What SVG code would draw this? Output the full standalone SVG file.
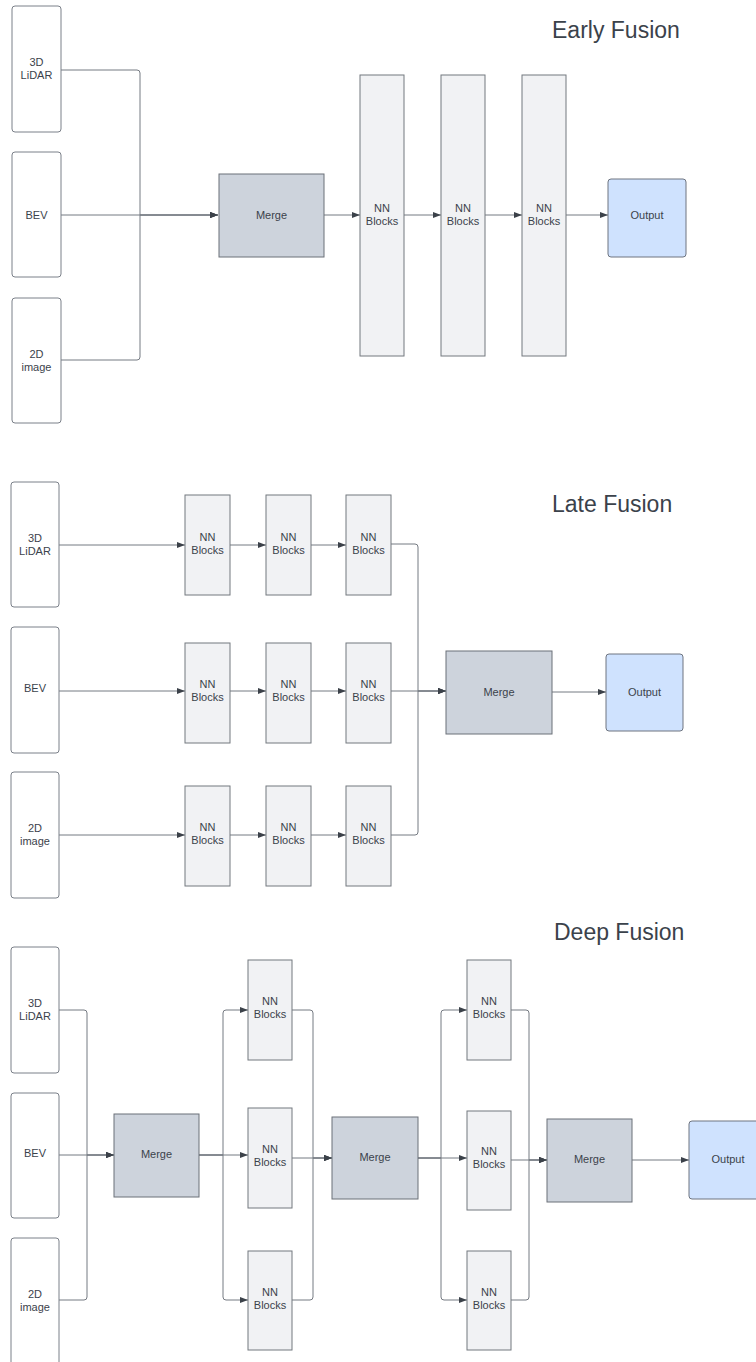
<svg xmlns="http://www.w3.org/2000/svg" width="756" height="1362" viewBox="0 0 756 1362">
<defs>
<style>
.in{fill:#ffffff;stroke:#7b8089;stroke-width:1}
.nn{fill:#f1f2f4;stroke:#73787f;stroke-width:1}
.mg{fill:#cdd3dc;stroke:#6b7078;stroke-width:1}
.out{fill:#cfe2fe;stroke:#6e7480;stroke-width:1}
.t{font-family:"Liberation Sans",Arial,sans-serif;font-size:11px;fill:#3b424b;text-anchor:middle}
.title{font-family:"Liberation Sans",Arial,sans-serif;font-size:23px;fill:#3b424b}
.c path{fill:none;stroke:#757a82;stroke-width:1}
.c path.a{marker-end:url(#arr)}
</style>
<marker id="arr" markerUnits="userSpaceOnUse" markerWidth="9" markerHeight="7" refX="8" refY="3" orient="auto">
<path d="M0,0 L8,3 L0,6 z" fill="#3b4149"/>
</marker>
</defs>
<rect width="756" height="1362" fill="#ffffff"/>

<!-- Titles -->
<text class="title" x="552" y="38">Early Fusion</text>
<text class="title" x="552" y="512">Late Fusion</text>
<text class="title" x="554" y="940">Deep Fusion</text>

<!-- Connectors -->
<g id="connectors" class="c">
<!-- Early -->
<path class="a" d="M61,70 H137 Q140,70 140,73 V215 H218"/>
<path class="a" d="M61,360 H137 Q140,360 140,357 V215 H218"/>
<path class="a" d="M61,215 H218"/>
<path class="a" d="M324,215 H360"/>
<path class="a" d="M404,215 H441"/>
<path class="a" d="M485,215 H522"/>
<path class="a" d="M566,215 H608"/>
<!-- Late -->
<path class="a" d="M59,545 H185"/>
<path class="a" d="M230,545 H266"/>
<path class="a" d="M311,545 H346"/>
<path class="a" d="M59,691 H185"/>
<path class="a" d="M230,691 H266"/>
<path class="a" d="M311,691 H346"/>
<path class="a" d="M59,835 H185"/>
<path class="a" d="M230,835 H266"/>
<path class="a" d="M311,835 H346"/>
<path class="a" d="M391,544 H415 Q418,544 418,547 V691 H446"/>
<path class="a" d="M391,835 H415 Q418,835 418,832 V691 H446"/>
<path class="a" d="M391,691 H446"/>
<path class="a" d="M552,692 H606"/>
<!-- Deep -->
<path class="a" d="M59,1010 H84 Q87,1010 87,1013 V1155 H114"/>
<path class="a" d="M59,1300 H84 Q87,1300 87,1297 V1155 H114"/>
<path class="a" d="M59,1155 H114"/>
<path class="a" d="M199,1155 H248"/>
<path class="a" d="M199,1155 H223 V1013 Q223,1010 226,1010 H248"/>
<path class="a" d="M199,1155 H223 V1297 Q223,1300 226,1300 H248"/>
<path class="a" d="M292,1010 H310 Q313,1010 313,1013 V1158 H332"/>
<path class="a" d="M292,1158 H332"/>
<path class="a" d="M292,1300 H310 Q313,1300 313,1297 V1158 H332"/>
<path class="a" d="M418,1158 H467"/>
<path class="a" d="M418,1158 H441 V1013 Q441,1010 444,1010 H467"/>
<path class="a" d="M418,1158 H441 V1297 Q441,1300 444,1300 H467"/>
<path class="a" d="M511,1010 H526 Q529,1010 529,1013 V1160 H547"/>
<path class="a" d="M511,1160 H547"/>
<path class="a" d="M511,1300 H526 Q529,1300 529,1297 V1160 H547"/>
<path class="a" d="M632,1160 H689"/>
</g>

<!-- Early Fusion nodes -->
<g id="e-lidar"><rect class="in" x="12" y="6" width="49" height="126" rx="3"/><text class="t" x="36.5" y="66">3D</text><text class="t" x="36.5" y="79">LiDAR</text></g>
<g id="e-bev"><rect class="in" x="12" y="152" width="49" height="125" rx="3"/><text class="t" x="36.5" y="219">BEV</text></g>
<g id="e-image"><rect class="in" x="12" y="298" width="49" height="125" rx="3"/><text class="t" x="36.5" y="358">2D</text><text class="t" x="36.5" y="371">image</text></g>
<g id="e-merge"><rect class="mg" x="219" y="174" width="105" height="83"/><text class="t" x="271.5" y="219">Merge</text></g>
<g id="e-nn1"><rect class="nn" x="360" y="75" width="44" height="281"/><text class="t" x="382" y="212">NN</text><text class="t" x="382" y="225">Blocks</text></g>
<g id="e-nn2"><rect class="nn" x="441" y="75" width="44" height="281"/><text class="t" x="463" y="212">NN</text><text class="t" x="463" y="225">Blocks</text></g>
<g id="e-nn3"><rect class="nn" x="522" y="75" width="44" height="281"/><text class="t" x="544" y="212">NN</text><text class="t" x="544" y="225">Blocks</text></g>
<g id="e-output"><rect class="out" x="608" y="179" width="78" height="78" rx="3"/><text class="t" x="647" y="219">Output</text></g>

<!-- Late Fusion nodes -->
<g id="l-lidar"><rect class="in" x="11" y="482" width="48" height="125" rx="3"/><text class="t" x="35" y="542">3D</text><text class="t" x="35" y="555">LiDAR</text></g>
<g id="l-bev"><rect class="in" x="11" y="627" width="48" height="126" rx="3"/><text class="t" x="35" y="692">BEV</text></g>
<g id="l-image"><rect class="in" x="11" y="772" width="48" height="126" rx="3"/><text class="t" x="35" y="832">2D</text><text class="t" x="35" y="845">image</text></g>
<g id="l-nn11"><rect class="nn" x="185" y="495" width="45" height="100"/><text class="t" x="207.5" y="541">NN</text><text class="t" x="207.5" y="554">Blocks</text></g>
<g id="l-nn12"><rect class="nn" x="266" y="495" width="45" height="100"/><text class="t" x="288.5" y="541">NN</text><text class="t" x="288.5" y="554">Blocks</text></g>
<g id="l-nn13"><rect class="nn" x="346" y="495" width="45" height="100"/><text class="t" x="368.5" y="541">NN</text><text class="t" x="368.5" y="554">Blocks</text></g>
<g id="l-nn21"><rect class="nn" x="185" y="643" width="45" height="100"/><text class="t" x="207.5" y="688">NN</text><text class="t" x="207.5" y="701">Blocks</text></g>
<g id="l-nn22"><rect class="nn" x="266" y="643" width="45" height="100"/><text class="t" x="288.5" y="688">NN</text><text class="t" x="288.5" y="701">Blocks</text></g>
<g id="l-nn23"><rect class="nn" x="346" y="643" width="45" height="100"/><text class="t" x="368.5" y="688">NN</text><text class="t" x="368.5" y="701">Blocks</text></g>
<g id="l-nn31"><rect class="nn" x="185" y="786" width="45" height="100"/><text class="t" x="207.5" y="831">NN</text><text class="t" x="207.5" y="844">Blocks</text></g>
<g id="l-nn32"><rect class="nn" x="266" y="786" width="45" height="100"/><text class="t" x="288.5" y="831">NN</text><text class="t" x="288.5" y="844">Blocks</text></g>
<g id="l-nn33"><rect class="nn" x="346" y="786" width="45" height="100"/><text class="t" x="368.5" y="831">NN</text><text class="t" x="368.5" y="844">Blocks</text></g>
<g id="l-merge"><rect class="mg" x="446" y="651" width="106" height="83"/><text class="t" x="499" y="696">Merge</text></g>
<g id="l-output"><rect class="out" x="606" y="654" width="77" height="77" rx="3"/><text class="t" x="644.5" y="696">Output</text></g>

<!-- Deep Fusion nodes -->
<g id="d-lidar"><rect class="in" x="11" y="947" width="48" height="126" rx="3"/><text class="t" x="35" y="1007">3D</text><text class="t" x="35" y="1020">LiDAR</text></g>
<g id="d-bev"><rect class="in" x="11" y="1093" width="48" height="125" rx="3"/><text class="t" x="35" y="1157">BEV</text></g>
<g id="d-image"><rect class="in" x="11" y="1238" width="48" height="132" rx="3"/><text class="t" x="35" y="1298">2D</text><text class="t" x="35" y="1311">image</text></g>
<g id="d-merge1"><rect class="mg" x="114" y="1114" width="85" height="83"/><text class="t" x="156.5" y="1158">Merge</text></g>
<g id="d-nn11"><rect class="nn" x="248" y="960" width="44" height="100"/><text class="t" x="270" y="1005">NN</text><text class="t" x="270" y="1018">Blocks</text></g>
<g id="d-nn12"><rect class="nn" x="248" y="1108" width="44" height="100"/><text class="t" x="270" y="1153">NN</text><text class="t" x="270" y="1166">Blocks</text></g>
<g id="d-nn13"><rect class="nn" x="248" y="1251" width="44" height="99"/><text class="t" x="270" y="1296">NN</text><text class="t" x="270" y="1309">Blocks</text></g>
<g id="d-merge2"><rect class="mg" x="332" y="1117" width="86" height="82"/><text class="t" x="375" y="1161">Merge</text></g>
<g id="d-nn21"><rect class="nn" x="467" y="960" width="44" height="100"/><text class="t" x="489" y="1005">NN</text><text class="t" x="489" y="1018">Blocks</text></g>
<g id="d-nn22"><rect class="nn" x="467" y="1111" width="44" height="99"/><text class="t" x="489" y="1155">NN</text><text class="t" x="489" y="1168">Blocks</text></g>
<g id="d-nn23"><rect class="nn" x="467" y="1251" width="44" height="99"/><text class="t" x="489" y="1296">NN</text><text class="t" x="489" y="1309">Blocks</text></g>
<g id="d-merge3"><rect class="mg" x="547" y="1119" width="85" height="83"/><text class="t" x="589.5" y="1163">Merge</text></g>
<g id="d-output"><rect class="out" x="689" y="1121" width="78" height="78" rx="3"/><text class="t" x="728" y="1163">Output</text></g>
</svg>
